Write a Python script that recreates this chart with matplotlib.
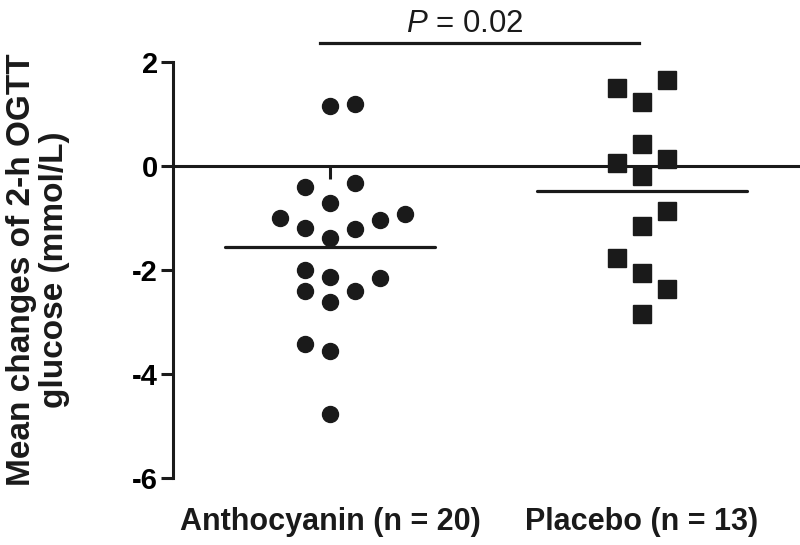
import numpy as np
import matplotlib
matplotlib.use('Agg')
import matplotlib.pyplot as plt

# values (mmol/L)
antho_vals = [1.15, 1.19, -0.40, -0.33, -0.72, -0.99, -1.20, -1.21, -1.04, -0.92,
              -1.39, -2.00, -2.13, -2.16, -2.40, -2.40, -2.62, -3.42, -3.55, -4.76]
antho_slot = [0, 1, -1, 1, 0, -2, -1, 1, 2, 3, 0, -1, 0, 2, -1, 1, 0, -1, 0, 0]
placebo_vals = [1.65, 1.51, 1.24, 0.42, 0.05, 0.13, -0.19, -0.86, -1.15,
                -1.76, -2.05, -2.37, -2.85]
placebo_slot = [1, -1, 0, 0, -1, 1, 0, 1, 0, -1, 0, 1, 0]
group_labels = ['Anthocyanin (n = 20)', 'Placebo (n = 13)']
p_text = '$\\mathit{P}$ = 0.02'
yticks = [-6, -4, -2, 0, 2]

plt.rcParams['font.family'] = ['Liberation Sans', 'DejaVu Sans']
plt.rcParams['mathtext.fontset'] = 'custom'
plt.rcParams['mathtext.it'] = 'Liberation Sans:italic'
plt.rcParams['axes.unicode_minus'] = False

ink = '#1a1a1a'
step = 0.08  # horizontal spacing of stacked points

fig = plt.figure(figsize=(8, 5.45), dpi=100)
ax = fig.add_axes([0.21625, 0.1229, 0.78125, 0.7633])

x0 = 0 + step * np.array(antho_slot)
x1 = 1 + step * np.array(placebo_slot)
ax.plot(x0, antho_vals, 'o', ms=11.5, color=ink, mec=ink, zorder=3, clip_on=False)
ax.plot(x1, placebo_vals, 's', ms=12.5, color=ink, mec=ink, zorder=3, clip_on=False)

# group means
half = 0.337
for xc, vals in [(0, antho_vals), (1, placebo_vals)]:
    m = np.mean(vals)
    ax.plot([xc - half, xc + half], [m, m], color=ink, lw=2.3, solid_capstyle='round', zorder=2)

ax.set_xlim(-0.503, 1.5)
ax.set_ylim(-6, 2)
ax.set_yticks(yticks)
ax.set_xticks([0, 1])
ax.set_xticklabels(['', ''])

for s in ['top', 'right']:
    ax.spines[s].set_visible(False)
ax.spines['bottom'].set_position(('data', 0))
ax.spines['bottom'].set_linewidth(2.2)
ax.spines['left'].set_linewidth(2.2)
ax.spines['bottom'].set_color(ink)
ax.spines['left'].set_color(ink)
ax.tick_params(axis='y', direction='out', length=9, width=2.2, color=ink,
               labelsize=21, pad=2)
ax.tick_params(axis='x', direction='out', length=9, width=2.2, color=ink)
for t in ax.get_yticklabels():
    t.set_fontweight('bold')

for xc, lab in zip([0, 1], group_labels):
    ax.text(xc, -6.85, lab, ha='center', va='center', fontsize=22,
            fontweight='bold', color=ink, clip_on=False)

# significance bracket
ax.plot([-0.032, 0.99], [2.36, 2.36], color=ink, lw=2.3, clip_on=False)
ax.text(0.433, 2.58, p_text, ha='center', va='baseline', fontsize=22.5,
        color=ink, clip_on=False)

fig.text(0.0475, 0.5046, 'Mean changes of 2-h OGTT\nglucose (mmol/L)', rotation=90,
         ha='center', va='center', fontsize=24, fontweight='bold', color=ink,
         linespacing=1.05)

fig.savefig('out.png', dpi=100)
